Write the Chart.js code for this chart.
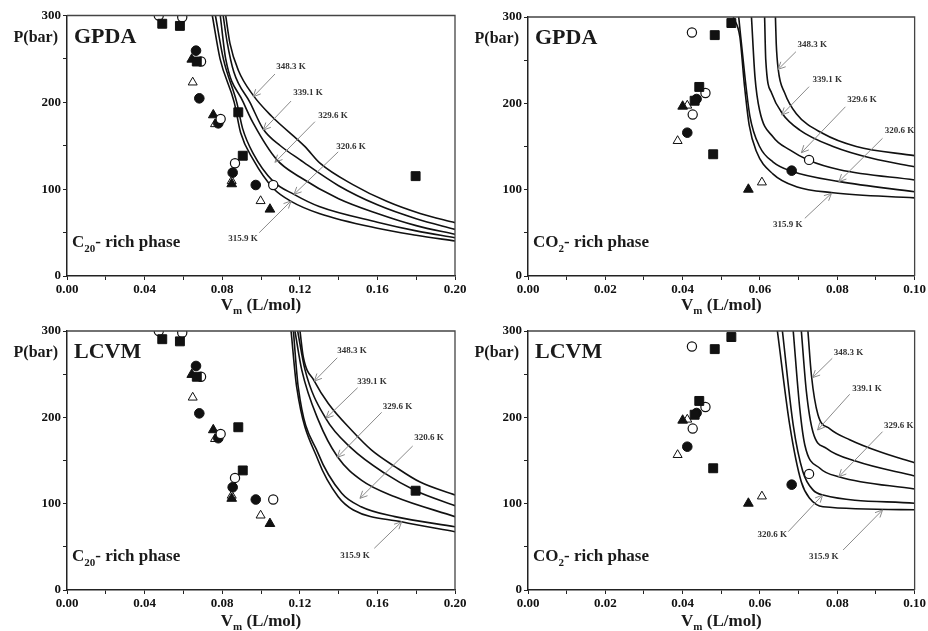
<!DOCTYPE html>
<html>
<head>
<meta charset="utf-8">
<script src="https://cdn.jsdelivr.net/npm/chart.js@4.4.1/dist/chart.umd.min.js"></script>
<style>
body { margin: 0; background: #fff; }
#wrap { position: relative; width: 928px; height: 631px; overflow: hidden; }
canvas { position: absolute; }
</style>
</head>
<body>
<div id="wrap">
  <canvas id="c1" width="480" height="315" style="left:0px;top:0px"></canvas>
  <canvas id="c2" width="478" height="315" style="left:450px;top:0px"></canvas>
  <canvas id="c3" width="480" height="316" style="left:0px;top:315px"></canvas>
  <canvas id="c4" width="478" height="316" style="left:450px;top:315px"></canvas>
</div>
<script>
// curve temperatures, same order in every curve list below
const temps = ['348.3 K', '339.1 K', '329.6 K', '320.6 K', '315.9 K'];

// experimental points, C20-rich phase [Vm, P]
const c20Squares = [[0.0491, 290.5], [0.0582, 288], [0.0669, 247], [0.0883, 188.5], [0.0906, 138.5], [0.1797, 115]];
const c20OpenCircles = [[0.0473, 300], [0.0594, 298], [0.0691, 247], [0.0792, 180.8], [0.0866, 129.8], [0.1063, 104.8]];
const c20Circles = [[0.0665, 259.5], [0.0682, 204.6], [0.078, 175.8], [0.0854, 119], [0.0973, 104.8]];
const c20Triangles = [[0.0643, 249.5], [0.0754, 185.4], [0.0849, 106], [0.1046, 76.8]];
const c20OpenTriangles = [[0.0648, 223], [0.0763, 175], [0.0849, 109.4], [0.0998, 86.4]];

// experimental points, CO2-rich phase [Vm, P]
const co2Squares = [[0.0431, 203], [0.0443, 219], [0.0479, 141], [0.0483, 279], [0.0526, 293]];
const co2OpenCircles = [[0.0424, 282], [0.0426, 187], [0.0459, 212], [0.0727, 134.5]];
const co2Circles = [[0.0412, 166], [0.0436, 205], [0.0682, 122]];
const co2Triangles = [[0.04, 196.5], [0.057, 100.3]];
const co2OpenTriangles = [[0.0387, 156.5], [0.0412, 197.5], [0.0605, 108.5]];

// model curves (348.3, 339.1, 329.6, 320.6, 315.9 K)
const gpdaC20 = [
  [[0.0818, 300], [0.0840, 268], [0.0883, 237], [0.0960, 208], [0.1055, 184], [0.1227, 149], [0.1304, 130], [0.1476, 105], [0.1648, 86], [0.182, 72], [0.2, 61.4]],
  [[0.0805, 300], [0.0825, 270], [0.0860, 235], [0.0943, 200], [0.1012, 169], [0.110, 150], [0.12, 134], [0.14, 104], [0.16, 82], [0.18, 66], [0.2, 53.7]],
  [[0.0790, 300], [0.0818, 250], [0.0909, 200], [0.0960, 176], [0.1081, 134], [0.12, 114], [0.14, 89], [0.16, 72], [0.18, 58], [0.2, 48]],
  [[0.0765, 300], [0.0806, 250], [0.0875, 200], [0.0905, 170], [0.0960, 141], [0.1063, 109], [0.117, 94], [0.13, 80], [0.16, 62], [0.18, 52], [0.2, 44.1]],
  [[0.0749, 300], [0.0789, 250], [0.0862, 200], [0.0895, 165], [0.0960, 134], [0.1063, 101], [0.1155, 86], [0.13, 72], [0.16, 55], [0.18, 47], [0.2, 40.3]]
];
const lcvmC20 = [
  [[0.1201, 300], [0.1218, 270], [0.1275, 242], [0.1347, 216], [0.1467, 185], [0.157, 162], [0.169, 143], [0.182, 125], [0.2, 110]],
  [[0.1189, 300], [0.1227, 255], [0.1333, 199], [0.1467, 164], [0.1639, 135], [0.1797, 115], [0.2, 97.7]],
  [[0.1175, 300], [0.1210, 255], [0.1295, 197], [0.1395, 154], [0.1519, 127], [0.169, 108], [0.2, 85]],
  [[0.1167, 300], [0.1192, 235], [0.1295, 158], [0.1416, 112], [0.1516, 96.5], [0.169, 85], [0.2, 73.3]],
  [[0.1155, 300], [0.1184, 235], [0.1295, 150], [0.1398, 108], [0.1476, 92.7], [0.1725, 79], [0.2, 67.5]]
];
const gpdaCO2 = [
  [[0.0640, 300], [0.0642, 270], [0.0647, 240], [0.0664, 212], [0.0694, 188], [0.0763, 165], [0.0849, 150], [0.1, 139.4]],
  [[0.0612, 300], [0.0615, 250], [0.0630, 212], [0.0658, 188], [0.0703, 169], [0.0789, 150], [0.0892, 136], [0.1, 126.6]],
  [[0.0578, 300], [0.0587, 231], [0.0599, 192], [0.0634, 161], [0.0677, 146], [0.0726, 134], [0.0806, 123], [0.1, 111.2]],
  [[0.0545, 300], [0.0561, 231], [0.0574, 185], [0.0599, 150], [0.0634, 132], [0.0680, 121.6], [0.0806, 109.3], [0.1, 97.6]],
  [[0.0531, 300], [0.0548, 277], [0.0560, 220], [0.0572, 175], [0.0590, 145], [0.0634, 118], [0.0694, 103.4], [0.0789, 96.5], [0.1, 90.5]]
];
const lcvmCO2 = [
  [[0.0724, 300], [0.0733, 249], [0.0750, 203], [0.0780, 187], [0.0832, 174], [0.0910, 160], [0.1, 147.5]],
  [[0.0707, 300], [0.0720, 230], [0.0737, 183], [0.0772, 164], [0.0849, 149], [0.1, 132]],
  [[0.0686, 300], [0.0703, 210], [0.0716, 168], [0.0755, 141], [0.0806, 131], [0.1, 117]],
  [[0.0658, 300], [0.0686, 191], [0.0711, 137], [0.0737, 116], [0.0763, 110], [0.1, 100.5]],
  [[0.0645, 300], [0.0677, 191], [0.0707, 125], [0.0729, 106], [0.0763, 96.5], [0.1, 93]]
];

// temperature callouts: [text x, text y, arrow tail x, tail y, tip x, tip y] in data units
const gpdaC20Notes = [
  [0.1155, 240.7, 0.1072, 232.6, 0.0960, 206.5],
  [0.1242, 210.7, 0.1155, 201.5, 0.1012, 168],
  [0.1371, 184.3, 0.1278, 177.7, 0.1072, 131],
  [0.1464, 148.6, 0.1398, 143, 0.1170, 94],
  [0.0907, 42.6, 0.0991, 49.9, 0.1155, 86.4]
];
const lcvmC20Notes = [
  [0.1469, 276.8, 0.1393, 269, 0.1275, 242],
  [0.1572, 241.3, 0.1498, 234.3, 0.1335, 198.9],
  [0.1704, 212.3, 0.1622, 205.8, 0.1393, 153.7],
  [0.1866, 176.4, 0.1782, 166.8, 0.1510, 106.2],
  [0.1485, 39.7, 0.1584, 48.3, 0.1725, 79.1]
];
const gpdaCO2Notes = [
  [0.0735, 267.6, 0.0693, 259.8, 0.0647, 239.4],
  [0.0774, 227, 0.0727, 219.3, 0.0656, 186.5],
  [0.0864, 204.7, 0.0821, 196, 0.0707, 142.8],
  [0.0961, 168, 0.0917, 159.5, 0.0804, 109.3],
  [0.0672, 59, 0.0716, 66.8, 0.0785, 95.8]
];
const lcvmCO2Notes = [
  [0.0829, 274.9, 0.0787, 268.4, 0.0736, 246],
  [0.0877, 233.6, 0.0832, 226.7, 0.0749, 185.3],
  [0.0959, 190.3, 0.0917, 183.4, 0.0804, 131.2],
  [0.0632, 63.7, 0.0673, 67.5, 0.0762, 110],
  [0.0765, 38.6, 0.0815, 46.3, 0.0917, 92.7]
];

const FONT = '"Liberation Serif", "Times New Roman", serif';
const toXY = arr => arr.map(p => ({ x: p[0], y: p[1] }));

function markers(sq, oc, fc, ft, ot) {
  const base = { showLine: false, order: 0 };
  return [
    { ...base, data: toXY(sq), pointStyle: 'rect', pointRadius: 6.3, backgroundColor: '#111', borderColor: '#111', borderWidth: 1 },
    { ...base, data: toXY(oc), pointStyle: 'circle', pointRadius: 4.6, backgroundColor: '#fff', borderColor: '#111', borderWidth: 1.2 },
    { ...base, data: toXY(fc), pointStyle: 'circle', pointRadius: 4.8, backgroundColor: '#111', borderColor: '#111', borderWidth: 1 },
    { ...base, data: toXY(ft), pointStyle: 'triangle', pointRadius: 5.6, backgroundColor: '#111', borderColor: '#111', borderWidth: 1 },
    { ...base, data: toXY(ot), pointStyle: 'triangle', pointRadius: 5.2, backgroundColor: '#fff', borderColor: '#111', borderWidth: 1 }
  ];
}

function curves(list) {
  return list.map(c => ({
    data: toXY(c), showLine: true, pointRadius: 0, borderColor: '#111', borderWidth: 1.6,
    cubicInterpolationMode: 'monotone', order: 1
  }));
}

function drawText(ctx, parts, x, y, align) {
  // parts: [text, size, dy]
  let w = 0;
  parts.forEach(p => { ctx.font = 'bold ' + p[1] + 'px ' + FONT; w += ctx.measureText(p[0]).width; });
  let cx = align === 'center' ? x - w / 2 : (align === 'right' ? x - w : x);
  ctx.textAlign = 'left';
  parts.forEach(p => {
    ctx.font = 'bold ' + p[1] + 'px ' + FONT;
    ctx.fillText(p[0], cx, y + p[2]);
    cx += ctx.measureText(p[0]).width;
  });
}

const panelDeco = {
  id: 'panelDeco',
  afterDraw(chart, args, o) {
    const { ctx, chartArea: a } = chart;
    const xs = chart.scales.x, ys = chart.scales.y;
    ctx.save();
    ctx.strokeStyle = '#444';
    ctx.lineWidth = 1.3;
    ctx.beginPath();
    ctx.moveTo(a.left, a.top);
    ctx.lineTo(a.right, a.top);
    ctx.lineTo(a.right, a.bottom);
    ctx.stroke();

    // temperature callouts
    o.notes.forEach((n, i) => {
      const lx = xs.getPixelForValue(n[0]), ly = ys.getPixelForValue(n[1]);
      const tx = xs.getPixelForValue(n[2]), ty = ys.getPixelForValue(n[3]);
      const px = xs.getPixelForValue(n[4]), py = ys.getPixelForValue(n[5]);
      ctx.fillStyle = '#333';
      ctx.font = 'bold 9px ' + FONT;
      ctx.textAlign = 'center';
      ctx.textBaseline = 'middle';
      ctx.fillText(temps[i], lx, ly);
      ctx.strokeStyle = '#8a8a8a';
      ctx.lineWidth = 1;
      ctx.beginPath();
      ctx.moveTo(tx, ty);
      ctx.lineTo(px, py);
      const ang = Math.atan2(ty - py, tx - px);
      [0.45, -0.45].forEach(d => {
        ctx.moveTo(px, py);
        ctx.lineTo(px + 8 * Math.cos(ang + d), py + 8 * Math.sin(ang + d));
      });
      ctx.stroke();
    });

    ctx.fillStyle = '#1a1a1a';
    ctx.textBaseline = 'alphabetic';
    drawText(ctx, [['P(bar)', 16, 0]], a.left - 9, a.top + 26, 'right');
    drawText(ctx, [[o.model, 22, 0]], a.left + 7, a.top + 27, 'left');
    drawText(ctx, o.phase, a.left + 5, a.bottom - 29, 'left');
    drawText(ctx, [['V', 17, 0], ['m', 11, 4], [' (L/mol)', 17, 0]], (a.left + a.right) / 2, a.bottom + o.titleGap, 'center');
    ctx.restore();
  }
};

function makePanel(id, model, phase, curveList, pts, notes, xMax, xStep, yAxisW, xAxisH, pad, titleGap) {
  new Chart(document.getElementById(id), {
    type: 'scatter',
    data: { datasets: curves(curveList).concat(pts) },
    options: {
      responsive: false,
      animation: false,
      events: [],
      layout: { padding: pad },
      plugins: {
        legend: { display: false },
        tooltip: { enabled: false },
        panelDeco: { model: model, phase: phase, notes: notes, titleGap: titleGap }
      },
      scales: {
        x: {
          type: 'linear', min: 0, max: xMax,
          afterFit: s => { s.height = xAxisH; },
          border: { display: true, color: '#222', width: 1.5 },
          grid: { drawOnChartArea: false, drawTicks: true, tickLength: 4, color: '#222' },
          ticks: {
            stepSize: xStep, autoSkip: false, maxRotation: 0, padding: 2, color: '#111',
            font: { family: FONT, size: 13, weight: 'bold' },
            callback: (v, i) => (i % 2 === 0 ? v.toFixed(2) : '')
          }
        },
        y: {
          type: 'linear', min: 0, max: 300,
          afterFit: s => { s.width = yAxisW; },
          border: { display: true, color: '#222', width: 1.5 },
          grid: { drawOnChartArea: false, drawTicks: true, tickLength: 4, color: '#222' },
          ticks: {
            stepSize: 50, autoSkip: false, padding: 2, color: '#111',
            font: { family: FONT, size: 13, weight: 'bold' },
            callback: (v, i) => (i % 2 === 0 ? String(v) : '')
          }
        }
      }
    },
    plugins: [panelDeco]
  });
}

const c20Phase = [['C', 17, 0], ['20', 11, 5], ['- rich phase', 17, 0]];
const co2Phase = [['CO', 17, 0], ['2', 11, 5], ['- rich phase', 17, 0]];
const c20Pts = () => markers(c20Squares, c20OpenCircles, c20Circles, c20Triangles, c20OpenTriangles);
const co2Pts = () => markers(co2Squares, co2OpenCircles, co2Circles, co2Triangles, co2OpenTriangles);

makePanel('c1', 'GPDA', c20Phase, gpdaC20, c20Pts(), gpdaC20Notes, 0.2, 0.02, 67, 39, { top: 15.5, right: 25, left: 0, bottom: 0 }, 34);
makePanel('c2', 'GPDA', co2Phase, gpdaCO2, co2Pts(), gpdaCO2Notes, 0.1, 0.01, 78, 39, { top: 17, right: 13, left: 0, bottom: 0 }, 34);
makePanel('c3', 'LCVM', c20Phase, lcvmC20, c20Pts(), lcvmC20Notes, 0.2, 0.02, 67, 41, { top: 16, right: 25, left: 0, bottom: 0 }, 36);
makePanel('c4', 'LCVM', co2Phase, lcvmCO2, co2Pts(), lcvmCO2Notes, 0.1, 0.01, 78, 41, { top: 16, right: 13, left: 0, bottom: 0 }, 36);
</script>
</body>
</html>
